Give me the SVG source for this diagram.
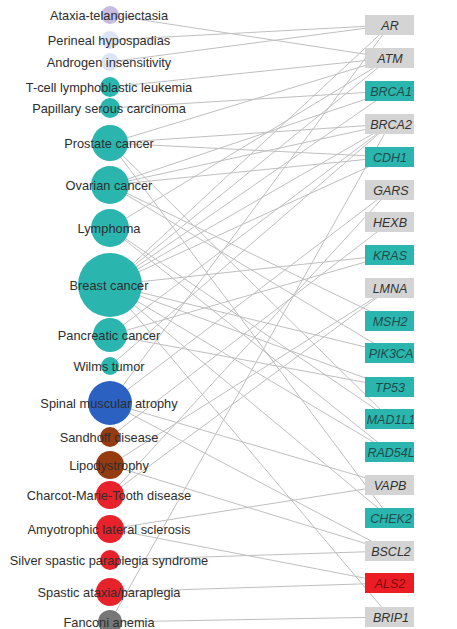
<svg xmlns="http://www.w3.org/2000/svg" width="457" height="629" viewBox="0 0 457 629">
<style>
.e{stroke:#bfbfbf;stroke-width:1;fill:none}
.dl{font-family:"Liberation Sans",Arial,sans-serif;font-size:12.8px;fill:#2e2e2e;text-anchor:middle}
.gl{font-family:"Liberation Sans",Arial,sans-serif;font-size:12.5px;font-style:italic;fill:#333;text-anchor:middle}
.gray{fill:#d4d4d4}.teal{fill:#2ab5ae}.red{fill:#ec1c24}
.tt{fill:#1f4d4b}.rt{fill:#7d0c0c}
.teal-c{fill:#2ab5ae}
</style>
<defs><clipPath id="gc"><rect x="365" y="0" width="49" height="629"/></clipPath></defs>
<rect width="457" height="629" fill="#fff"/>
<g id="edges">
<line class="e" x1="110" y1="15" x2="390" y2="58"/>
<line class="e" x1="110" y1="40" x2="390" y2="25"/>
<line class="e" x1="110" y1="62" x2="390" y2="25"/>
<line class="e" x1="110" y1="87" x2="390" y2="58"/>
<line class="e" x1="110" y1="108" x2="390" y2="91"/>
<line class="e" x1="110" y1="143" x2="390" y2="58"/>
<line class="e" x1="110" y1="143" x2="390" y2="124"/>
<line class="e" x1="110" y1="143" x2="390" y2="157"/>
<line class="e" x1="110" y1="143" x2="390" y2="419"/>
<line class="e" x1="110" y1="143" x2="390" y2="518"/>
<line class="e" x1="110" y1="185" x2="390" y2="91"/>
<line class="e" x1="110" y1="185" x2="390" y2="124"/>
<line class="e" x1="110" y1="185" x2="390" y2="157"/>
<line class="e" x1="110" y1="185" x2="390" y2="321"/>
<line class="e" x1="110" y1="185" x2="390" y2="353"/>
<line class="e" x1="110" y1="228" x2="390" y2="58"/>
<line class="e" x1="110" y1="228" x2="390" y2="419"/>
<line class="e" x1="110" y1="228" x2="390" y2="452"/>
<line class="e" x1="110" y1="285" x2="390" y2="25"/>
<line class="e" x1="110" y1="285" x2="390" y2="58"/>
<line class="e" x1="110" y1="285" x2="390" y2="91"/>
<line class="e" x1="110" y1="285" x2="390" y2="124"/>
<line class="e" x1="110" y1="285" x2="390" y2="157"/>
<line class="e" x1="110" y1="285" x2="390" y2="255"/>
<line class="e" x1="110" y1="285" x2="390" y2="353"/>
<line class="e" x1="110" y1="285" x2="390" y2="387"/>
<line class="e" x1="110" y1="285" x2="390" y2="452"/>
<line class="e" x1="110" y1="285" x2="390" y2="518"/>
<line class="e" x1="110" y1="285" x2="390" y2="617"/>
<line class="e" x1="110" y1="335" x2="390" y2="124"/>
<line class="e" x1="110" y1="335" x2="390" y2="255"/>
<line class="e" x1="110" y1="335" x2="390" y2="387"/>
<line class="e" x1="110" y1="366" x2="390" y2="124"/>
<line class="e" x1="110" y1="403" x2="390" y2="25"/>
<line class="e" x1="110" y1="403" x2="390" y2="190"/>
<line class="e" x1="110" y1="403" x2="390" y2="485"/>
<line class="e" x1="110" y1="403" x2="390" y2="551"/>
<line class="e" x1="110" y1="437" x2="390" y2="222"/>
<line class="e" x1="110" y1="465" x2="390" y2="288"/>
<line class="e" x1="110" y1="465" x2="390" y2="551"/>
<line class="e" x1="110" y1="495" x2="390" y2="190"/>
<line class="e" x1="110" y1="495" x2="390" y2="288"/>
<line class="e" x1="110" y1="529" x2="390" y2="485"/>
<line class="e" x1="110" y1="529" x2="390" y2="583"/>
<line class="e" x1="110" y1="560" x2="390" y2="551"/>
<line class="e" x1="110" y1="592" x2="390" y2="583"/>
<line class="e" x1="110" y1="622" x2="390" y2="124"/>
<line class="e" x1="110" y1="622" x2="390" y2="617"/>
</g>
<g id="diseases">
<g id="d-ataxia"><circle cx="110" cy="15" r="9" fill="#c7bbe2"/><text class="dl" x="109" y="19.5">Ataxia-telangiectasia</text></g>
<g id="d-perineal"><circle cx="110" cy="40" r="9" fill="#dce5f5"/><text class="dl" x="109" y="44.5">Perineal hypospadias</text></g>
<g id="d-androgen"><circle cx="110" cy="62" r="9" fill="#dce5f5"/><text class="dl" x="109" y="66.5">Androgen insensitivity</text></g>
<g id="d-tcell"><circle cx="110" cy="87" r="10" class="teal-c"/><text class="dl" x="109" y="91.5">T-cell lymphoblastic leukemia</text></g>
<g id="d-papillary"><circle cx="110" cy="108" r="10" class="teal-c"/><text class="dl" x="109" y="112.5">Papillary serous carcinoma</text></g>
<g id="d-prostate"><circle cx="110" cy="143" r="18" class="teal-c"/><text class="dl" x="109" y="147.5">Prostate cancer</text></g>
<g id="d-ovarian"><circle cx="110" cy="185" r="19" class="teal-c"/><text class="dl" x="109" y="189.5">Ovarian cancer</text></g>
<g id="d-lymphoma"><circle cx="110" cy="228" r="19" class="teal-c"/><text class="dl" x="109" y="232.5">Lymphoma</text></g>
<g id="d-breast"><circle cx="110" cy="285" r="32" class="teal-c"/><text class="dl" x="109" y="289.5">Breast cancer</text></g>
<g id="d-pancreatic"><circle cx="110" cy="335" r="17" class="teal-c"/><text class="dl" x="109" y="339.5">Pancreatic cancer</text></g>
<g id="d-wilms"><circle cx="110" cy="366" r="9" class="teal-c"/><text class="dl" x="109" y="370.5">Wilms tumor</text></g>
<g id="d-sma"><circle cx="110" cy="403" r="22" fill="#2b62c2"/><text class="dl" x="109" y="407.5">Spinal muscular atrophy</text></g>
<g id="d-sandhoff"><circle cx="110" cy="437" r="10" fill="#963a10"/><text class="dl" x="109" y="441.5">Sandhoff disease</text></g>
<g id="d-lipo"><circle cx="110" cy="465" r="14" fill="#963a10"/><text class="dl" x="109" y="469.5">Lipodystrophy</text></g>
<g id="d-cmt"><circle cx="110" cy="495" r="14" fill="#e8222a"/><text class="dl" x="109" y="499.5">Charcot-Marie-Tooth disease</text></g>
<g id="d-als"><circle cx="110" cy="529" r="14" fill="#e8222a"/><text class="dl" x="109" y="533.5">Amyotrophic lateral sclerosis</text></g>
<g id="d-silver"><circle cx="110" cy="560" r="10" fill="#e8222a"/><text class="dl" x="109" y="564.5">Silver spastic paraplegia syndrome</text></g>
<g id="d-spastic"><circle cx="110" cy="592" r="14" fill="#e8222a"/><text class="dl" x="109" y="596.5">Spastic ataxia/paraplegia</text></g>
<g id="d-fanconi"><circle cx="110" cy="622" r="12" fill="#777"/><text class="dl" x="109" y="627">Fanconi anemia</text></g>
</g>
<g id="genes">
<g id="g-AR"><rect class="gray" x="365" y="15" width="49" height="20"/></g>
<g id="g-ATM"><rect class="gray" x="365" y="48" width="49" height="20"/></g>
<g id="g-BRCA1"><rect class="teal" x="365" y="81" width="49" height="20"/></g>
<g id="g-BRCA2"><rect class="gray" x="365" y="114" width="49" height="20"/></g>
<g id="g-CDH1"><rect class="teal" x="365" y="147" width="49" height="20"/></g>
<g id="g-GARS"><rect class="gray" x="365" y="180" width="49" height="20"/></g>
<g id="g-HEXB"><rect class="gray" x="365" y="212" width="49" height="20"/></g>
<g id="g-KRAS"><rect class="teal" x="365" y="245" width="49" height="20"/></g>
<g id="g-LMNA"><rect class="gray" x="365" y="278" width="49" height="20"/></g>
<g id="g-MSH2"><rect class="teal" x="365" y="311" width="49" height="20"/></g>
<g id="g-PIK3CA"><rect class="teal" x="365" y="343" width="49" height="20"/></g>
<g id="g-TP53"><rect class="teal" x="365" y="377" width="49" height="20"/></g>
<g id="g-MAD1L1"><rect class="teal" x="365" y="409" width="49" height="20"/></g>
<g id="g-RAD54L"><rect class="teal" x="365" y="442" width="49" height="20"/></g>
<g id="g-VAPB"><rect class="gray" x="365" y="475" width="49" height="20"/></g>
<g id="g-CHEK2"><rect class="teal" x="365" y="508" width="49" height="20"/></g>
<g id="g-BSCL2"><rect class="gray" x="365" y="541" width="49" height="20"/></g>
<g id="g-ALS2"><rect class="red" x="365" y="573" width="49" height="20"/></g>
<g id="g-BRIP1"><rect class="gray" x="365" y="607" width="49" height="20"/></g>
<g clip-path="url(#gc)">
<text class="gl" x="390" y="29.5">AR</text>
<text class="gl" x="390" y="62.5">ATM</text>
<text class="gl tt" x="391" y="95.5">BRCA1</text>
<text class="gl" x="391" y="128.5">BRCA2</text>
<text class="gl tt" x="390" y="161.5">CDH1</text>
<text class="gl" x="391" y="194.5">GARS</text>
<text class="gl" x="390" y="226.5">HEXB</text>
<text class="gl tt" x="390" y="259.5">KRAS</text>
<text class="gl" x="390" y="292.5">LMNA</text>
<text class="gl tt" x="390" y="325.5">MSH2</text>
<text class="gl tt" x="391" y="357.5">PIK3CA</text>
<text class="gl tt" x="390" y="391.5">TP53</text>
<text class="gl tt" x="391" y="423.5">MAD1L1</text>
<text class="gl tt" x="391" y="456.5">RAD54L</text>
<text class="gl" x="390" y="489.5">VAPB</text>
<text class="gl tt" x="391" y="522.5">CHEK2</text>
<text class="gl" x="391" y="555.5">BSCL2</text>
<text class="gl rt" x="390" y="587.5">ALS2</text>
<text class="gl" x="391" y="621.5">BRIP1</text>
</g>
</g>
</svg>
